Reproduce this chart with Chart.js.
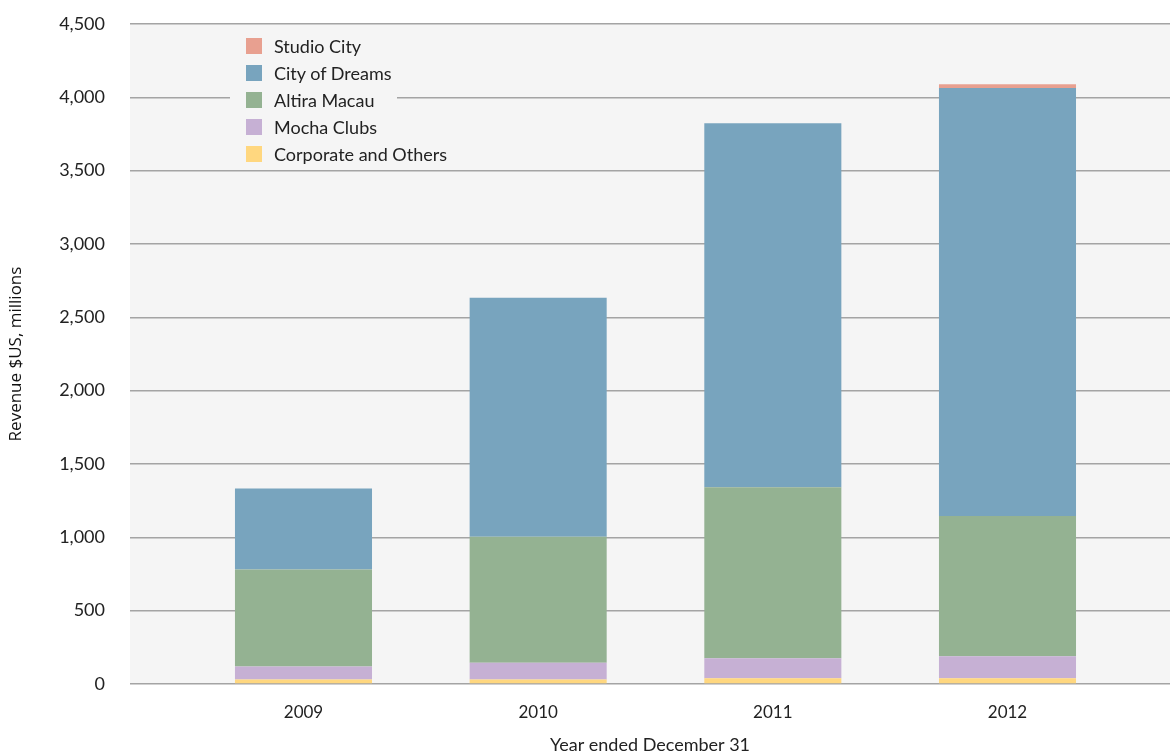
<!DOCTYPE html>
<html>
<head>
<meta charset="utf-8">
<script src="https://cdn.jsdelivr.net/npm/chart.js@4"></script>
<style>
  html, body { margin: 0; padding: 0; background: #fff; }
  #wrap { position: relative; width: 1170px; height: 756px; }
  #legend {
    position: absolute; left: 230px; top: 32px; width: 167px;
    background: #f5f5f5; font-family: Lato, sans-serif; font-size: 18px; color: #222;
  }
  #legend .row { display: flex; align-items: center; height: 27px; white-space: nowrap; }
  #legend .sw { width: 16px; height: 16px; margin-left: 16px; margin-right: 12px; flex: none; }
</style>
</head>
<body>
<div id="wrap">
  <canvas id="myChart" width="1170" height="756"></canvas>
  <div id="legend"></div>
</div>
<script>
// Values ($US millions)
const years = ['2009', '2010', '2011', '2012'];
const seriesNames = ['Studio City', 'City of Dreams', 'Altira Macau', 'Mocha Clubs', 'Corporate and Others'];
const studioCity = [0, 0, 0, 27];
const cityOfDreams = [552, 1630, 2482, 2918];
const altiraMacau = [661, 859, 1166, 955];
const mochaClubs = [90, 115, 136, 150];
const corporate = [30, 30, 40, 40];
const seriesColors = ['#e8a090', '#78a4be', '#94b292', '#c6b0d4', '#ffd77f'];
const yTicks = [0, 500, 1000, 1500, 2000, 2500, 3000, 3500, 4000, 4500];

document.addEventListener('DOMContentLoaded', function() {
    const tickFont = { family: 'Lato, sans-serif', size: 17 };

    // Paint the grey plot area behind the grid
    const plotBackground = {
        id: 'plotBackground',
        beforeDraw(chart) {
            const a = chart.chartArea;
            const ctx = chart.ctx;
            ctx.save();
            ctx.fillStyle = '#f5f5f5';
            ctx.fillRect(a.left, a.top, a.right - a.left, a.bottom - a.top);
            ctx.restore();
        }
    };

    function points(values) {
        return values.map((v, i) => ({ x: i, y: v }));
    }

    // bottom of the stack first
    const stackValues = [corporate, mochaClubs, altiraMacau, cityOfDreams, studioCity];
    const stackIndex = [4, 3, 2, 1, 0];
    const datasets = stackValues.map((vals, k) => ({
        label: seriesNames[stackIndex[k]],
        data: points(vals),
        backgroundColor: seriesColors[stackIndex[k]],
        borderWidth: 0,
        categoryPercentage: 1,
        barPercentage: 0.584
    }));

    new Chart(document.getElementById('myChart').getContext('2d'), {
        type: 'bar',
        data: { datasets: datasets },
        options: {
            responsive: false,
            animation: false,
            layout: { padding: { top: 24, right: 0, left: 0, bottom: 0 } },
            plugins: {
                legend: { display: false },
                tooltip: { enabled: false }
            },
            scales: {
                x: {
                    type: 'linear',
                    stacked: true,
                    offset: false,
                    min: -0.7393,
                    max: 3.6925,
                    afterBuildTicks: function(scale) {
                        scale.ticks = years.map((y, i) => ({ value: i }));
                    },
                    afterFit: function(scale) {
                        scale.height = 72;
                        scale.paddingLeft = 0;
                        scale.paddingRight = 0;
                    },
                    grid: { display: false, drawTicks: false },
                    border: { display: false },
                    ticks: {
                        autoSkip: false,
                        maxRotation: 0,
                        padding: 18,
                        color: '#222',
                        font: tickFont,
                        callback: value => years[value]
                    },
                    title: {
                        display: true,
                        text: 'Year ended December 31',
                        color: '#222',
                        font: { family: 'Lato, sans-serif', size: 18 },
                        padding: { top: 0, bottom: 0 }
                    }
                },
                y: {
                    stacked: true,
                    min: 0,
                    max: 4500,
                    afterBuildTicks: function(scale) {
                        scale.ticks = yTicks.map(v => ({ value: v }));
                    },
                    afterFit: function(scale) {
                        scale.width = 130;
                        scale.paddingTop = 0;
                        scale.paddingBottom = 0;
                    },
                    grid: { color: '#a4a4a4', lineWidth: 1.5, drawTicks: false },
                    border: { display: false },
                    ticks: {
                        padding: 25,
                        color: '#222',
                        font: { family: 'Lato, sans-serif', size: 18 },
                        callback: value => value.toLocaleString('en-US')
                    },
                    title: {
                        display: true,
                        text: 'Revenue $US, millions',
                        color: '#111',
                        font: { family: '"Open Sans", sans-serif', size: 17 },
                        padding: { top: 6, bottom: 0 }
                    }
                }
            }
        },
        plugins: [plotBackground]
    });

    // Legend in the order of the reference (top of stack first)
    const legend = document.getElementById('legend');
    seriesNames.forEach(function(name, i) {
        const row = document.createElement('div');
        row.className = 'row';
        const sw = document.createElement('span');
        sw.className = 'sw';
        sw.style.background = seriesColors[i];
        row.appendChild(sw);
        row.appendChild(document.createTextNode(name));
        legend.appendChild(row);
    });
});
</script>
</body>
</html>
